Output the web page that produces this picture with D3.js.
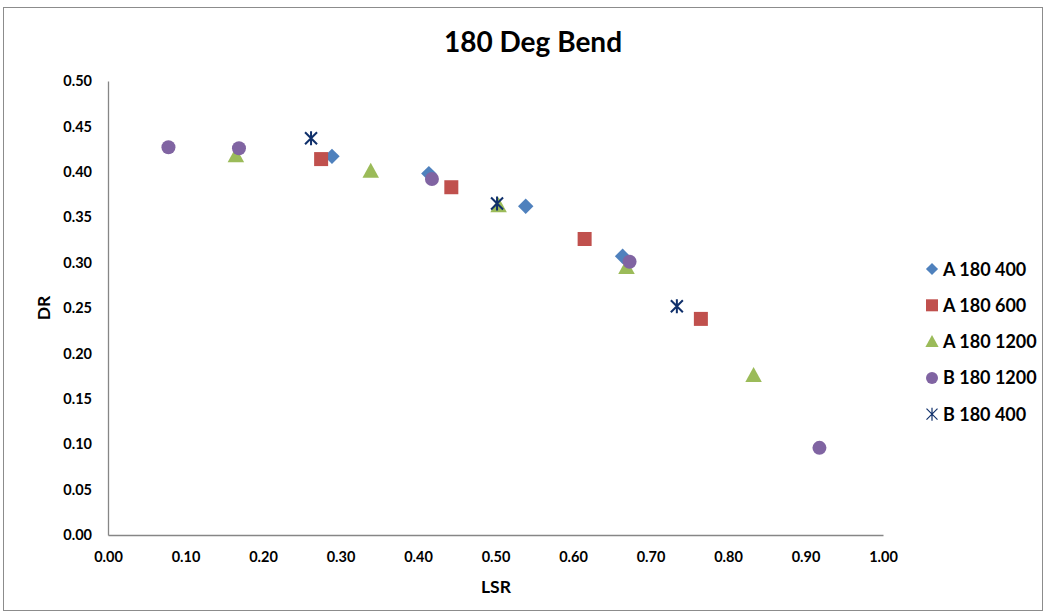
<!DOCTYPE html>
<html><head><meta charset="utf-8">
<script src="https://cdn.jsdelivr.net/npm/d3@7"></script>
<style>body{margin:0;background:#fff}svg text{font-family:Lato,"Open Sans",sans-serif;font-weight:bold;fill:#000}</style>
</head><body><svg id="c" width="1047" height="615"></svg>
<script>
const seriesNames = ["A 180 400","A 180 600","A 180 1200","B 180 1200","B 180 400"];
const a400 = [[0.289,0.417],[0.414,0.398],[0.539,0.362],[0.664,0.307]];
const a600 = [[0.275,0.414],[0.443,0.383],[0.615,0.326],[0.765,0.238]];
const a1200 = [[0.165,0.418],[0.339,0.401],[0.504,0.363],[0.669,0.295],[0.833,0.176]];
const b1200 = [[0.078,0.427],[0.169,0.426],[0.418,0.392],[0.673,0.301],[0.918,0.096]];
const b400 = [[0.262,0.437],[0.502,0.365],[0.734,0.252]];
const xTicks = [0,0.1,0.2,0.3,0.4,0.5,0.6,0.7,0.8,0.9,1.0];
const yTicks = [0,0.05,0.1,0.15,0.2,0.25,0.3,0.35,0.4,0.45,0.5];

const seriesData = [a400,a600,a1200,b1200,b400];
const colors = ["#4F81BD","#C0504D","#9BBB59","#8064A2","#10306B"];
const shapes = ["diamond","square","triangle","circle","star"];

const svg = d3.select("#c");
svg.append("rect").attr("x",3.5).attr("y",7.5).attr("width",1039).attr("height",603)
  .attr("fill","#fff").attr("stroke","#8c8c8c").attr("stroke-width",1);

const L=108,R=883,T=81,B=535;
const x = d3.scaleLinear().domain([0,1]).range([L,R]);
const y = d3.scaleLinear().domain([0,0.5]).range([B,T]);

svg.append("text").attr("x",533).attr("y",52).attr("text-anchor","middle")
  .style("font-size","28px").text("180 Deg Bend");

const xa = svg.append("g").attr("transform",`translate(0,${B})`)
  .call(d3.axisBottom(x).tickValues(xTicks).tickFormat(d3.format(".2f")).tickSize(0).tickPadding(17));
const ya = svg.append("g").attr("transform",`translate(${L},0)`)
  .call(d3.axisLeft(y).tickValues(yTicks).tickFormat(d3.format(".2f")).tickSize(0).tickPadding(16));
[xa,ya].forEach(g=>{
  g.select(".domain").attr("stroke","#868686").attr("stroke-width",1.3);
  g.selectAll("text").style("font-size","14.5px").style("font-family","Lato,sans-serif").style("font-weight","bold").attr("fill","#000");
});

svg.append("text").attr("x",496).attr("y",593).attr("text-anchor","middle").style("font-size","17.5px").text("LSR");
svg.append("text").attr("transform","translate(50,308) rotate(-90)").attr("text-anchor","middle").style("font-size","17.5px").text("DR");

function drawMarker(g, shape, color, cx, cy, s, sw){
  if(shape==="diamond"){
    g.append("path").attr("d",`M${cx},${cy-s*0.55}L${cx+s*0.55},${cy}L${cx},${cy+s*0.55}L${cx-s*0.55},${cy}Z`).attr("fill",color);
  } else if(shape==="square"){
    g.append("rect").attr("x",cx-s/2).attr("y",cy-s/2).attr("width",s).attr("height",s).attr("fill",color);
  } else if(shape==="triangle"){
    g.append("path").attr("d",`M${cx},${cy-s*0.55}L${cx+s*0.55},${cy+s*0.45}L${cx-s*0.55},${cy+s*0.45}Z`).attr("fill",color);
  } else if(shape==="circle"){
    g.append("circle").attr("cx",cx).attr("cy",cy).attr("r",s/2).attr("fill",color);
  } else {
    const h=s/2;
    g.append("path").attr("d",`M${cx-h},${cy-h}L${cx+h},${cy+h}M${cx-h},${cy+h}L${cx+h},${cy-h}M${cx},${cy-h-1}L${cx},${cy+h+1}`)
      .attr("stroke",color).attr("stroke-width",sw||2).attr("fill","none");
  }
}

const sizes=[14,14,15,14,12];
seriesData.forEach((data,i)=>{
  const g = svg.append("g");
  data.forEach(d=>drawMarker(g,shapes[i],colors[i],x(d[0]),y(d[1]),sizes[i]));
});

const lg = svg.append("g");
seriesNames.forEach((n,i)=>{
  const yy = 269 + i*36.3;
  const sz = shapes[i]==="star"?11:(shapes[i]==="diamond"?11:12);
  drawMarker(lg,shapes[i],colors[i],932,yy,sz,1.2);
  lg.append("text").attr("x",943).attr("y",yy+6.5).style("font-size","18px").text(n);
});
</script></body></html>
